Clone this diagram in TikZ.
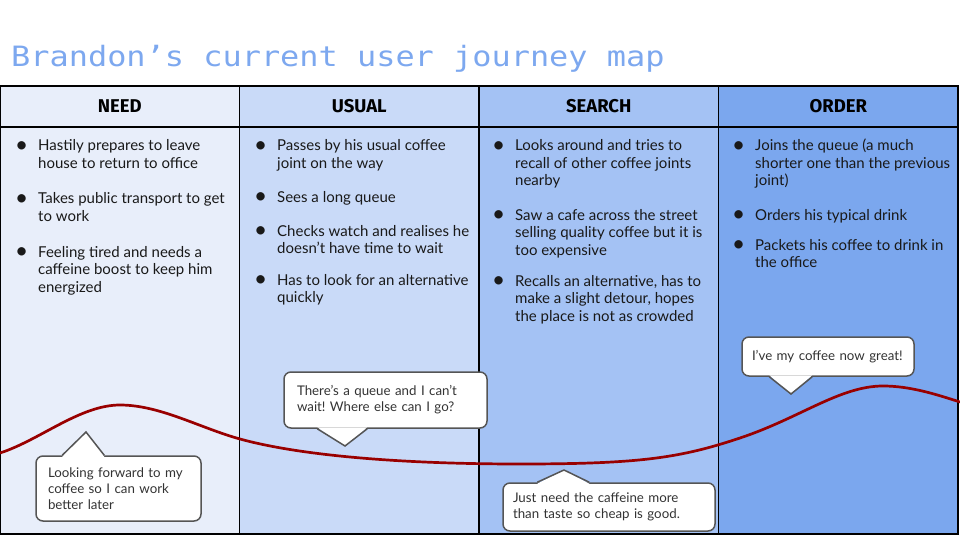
\documentclass[tikz,border=0pt]{standalone}
\usepackage{fontspec}
\setmainfont{Lato}
\newfontfamily\titlefont{DejaVu Sans Mono}
\newfontfamily\headfont{Fira Sans}
\usepackage{graphicx}
\usetikzlibrary{positioning}
\frenchspacing

\definecolor{needc}{HTML}{E8EEFA}
\definecolor{usualc}{HTML}{C9DAF8}
\definecolor{searchc}{HTML}{A4C2F4}
\definecolor{orderc}{HTML}{7BA7EE}
\definecolor{titlec}{HTML}{7DA8EF}
\definecolor{moodc}{HTML}{990000}
\definecolor{bubblec}{HTML}{555555}

\tikzset{
  head/.style={draw, line width=1.2pt, outer sep=0pt, minimum width=239.5pt, minimum height=41pt,
    font=\headfont\bfseries\fontsize{18.5}{21}\selectfont},
  cell/.style={draw, line width=1.2pt, outer sep=0pt, minimum width=239.5pt, minimum height=407pt},
  item/.style={anchor=base west, inner sep=0pt, text=black!90, font=\fontsize{15}{17.5}\selectfont},
  bubble/.style={draw=bubblec, fill=white, line width=1.5pt, rounded corners=7pt, inner sep=0pt,
    align=left, text=black!80, font=\fontsize{13.3}{16}\selectfont},
  tipline/.style={draw=bubblec, line width=1.5pt, line join=miter},
  mood/.style={draw=moodc, line width=2.7pt},
}
\newcommand{\jitem}[1]{\begin{tabular}[t]{@{}p{18pt}@{}l@{}}\hspace*{-5pt}\raisebox{-1.6pt}{\scalebox{1.5}{\textbullet}} & #1\end{tabular}}

\begin{document}
\begin{tikzpicture}[x=1pt,y=-1pt]
\useasboundingbox (0,0) rectangle (960,540);

\node[anchor=base west, inner sep=0pt, text=titlec] (title) at (11,67)
  {\titlefont\fontsize{28}{30}\selectfont\scalebox{1.14}[1]{Brandon’s current user journey map}};

% stages
\node[head, fill=needc] (need) at (119.75,106.5) {NEED};
\node[head, fill=usualc, right=0pt of need] (usual) {USUAL};
\node[head, fill=searchc, right=0pt of usual] (search) {SEARCH};
\node[head, fill=orderc, right=0pt of search] (order) {ORDER};
\node[cell, fill=needc, below=0pt of need] (needbody) {};
\node[cell, fill=usualc, below=0pt of usual] (usualbody) {};
\node[cell, fill=searchc, below=0pt of search] (searchbody) {};
\node[cell, fill=orderc, below=0pt of order] (orderbody) {};

% steps
\node[item] (need1) at (20,151) {\jitem{Hastily prepares to leave\\ & house to return to office}};
\node[item] (need2) at (20,204) {\jitem{Takes public transport to get\\ & to work}};
\node[item] (need3) at (20,257) {\jitem{Feeling tired and needs a\\ & caffeine boost to keep him\\ & energized}};

\node[item] (usual1) at (259,151) {\jitem{Passes by his usual coffee\\ & joint on the way}};
\node[item] (usual2) at (259,202) {\jitem{Sees a long queue}};
\node[item] (usual3) at (259,236) {\jitem{Checks watch and realises he\\ & doesn’t have time to wait}};
\node[item] (usual4) at (259,285) {\jitem{Has to look for an alternative\\ & quickly}};

\node[item] (search1) at (497,151) {\jitem{Looks around and tries to\\ & recall of other coffee joints\\ & nearby}};
\node[item] (search2) at (497,220) {\jitem{Saw a cafe across the street\\ & selling quality coffee but it is\\ & too expensive}};
\node[item] (search3) at (497,286) {\jitem{Recalls an alternative, has to\\ & make a slight detour, hopes\\ & the place is not as crowded}};

\node[item] (order1) at (737,151) {\jitem{Joins the queue (a much\\ & shorter one than the previous\\ & joint)}};
\node[item] (order2) at (737,220) {\jitem{Orders his typical drink}};
\node[item] (order3) at (737,250) {\jitem{Packets his coffee to drink in\\ & the office}};

% mood line
\draw[mood] (0,453) .. controls (40,440) and (80,405) .. (120,405)
  .. controls (160,405) and (200,428) .. (240,439)
  .. controls (300,455.5) and (400,464) .. (520,464)
  .. controls (640,464) and (680,458) .. (740,438)
  .. controls (800,418) and (840,386) .. (883,386)
  .. controls (910,386) and (935,394) .. (960,402);

% thoughts
\coordinate (t1) at (86,432);
\coordinate (t2) at (345,446);
\coordinate (t3) at (564,470);
\coordinate (t4) at (791,394);
\node[bubble, minimum width=165pt, minimum height=65pt, text width=141pt] (b1) at (118.5,488.5)
  {Looking forward to my\\coffee so I can work\\better later};
\node[bubble, minimum width=203pt, minimum height=56pt, text width=177pt] (b2) at (385.5,400)
  {There’s a queue and I can’t\\wait! Where else can I go?};
\node[bubble, minimum width=212pt, minimum height=48pt, text width=192pt] (b3) at (609,507)
  {Just need the caffeine more\\than taste so cheap is good.};
\node[bubble, minimum width=172pt, minimum height=39pt, text width=152pt] (b4) at (828,356.5)
  {I’ve my coffee now great!};

\fill[white] ([xshift=27pt,yshift=-1.5pt]b1.north west) -- (t1) -- ([xshift=69pt,yshift=-1.5pt]b1.north west) -- cycle;
\draw[tipline] ([xshift=27pt]b1.north west) -- (t1) -- ([xshift=69pt]b1.north west);
\fill[white] ([xshift=34pt,yshift=1.5pt]b2.south west) -- (t2) -- ([xshift=84pt,yshift=1.5pt]b2.south west) -- cycle;
\draw[tipline] ([xshift=34pt]b2.south west) -- (t2) -- ([xshift=84pt]b2.south west);
\fill[white] ([xshift=35pt,yshift=-1.5pt]b3.north west) -- (t3) -- ([xshift=87pt,yshift=-1.5pt]b3.north west) -- cycle;
\draw[tipline] ([xshift=35pt]b3.north west) -- (t3) -- ([xshift=87pt]b3.north west);
\fill[white] ([xshift=28pt,yshift=1.5pt]b4.south west) -- (t4) -- ([xshift=71pt,yshift=1.5pt]b4.south west) -- cycle;
\draw[tipline] ([xshift=28pt]b4.south west) -- (t4) -- ([xshift=71pt]b4.south west);
\end{tikzpicture}
\end{document}
